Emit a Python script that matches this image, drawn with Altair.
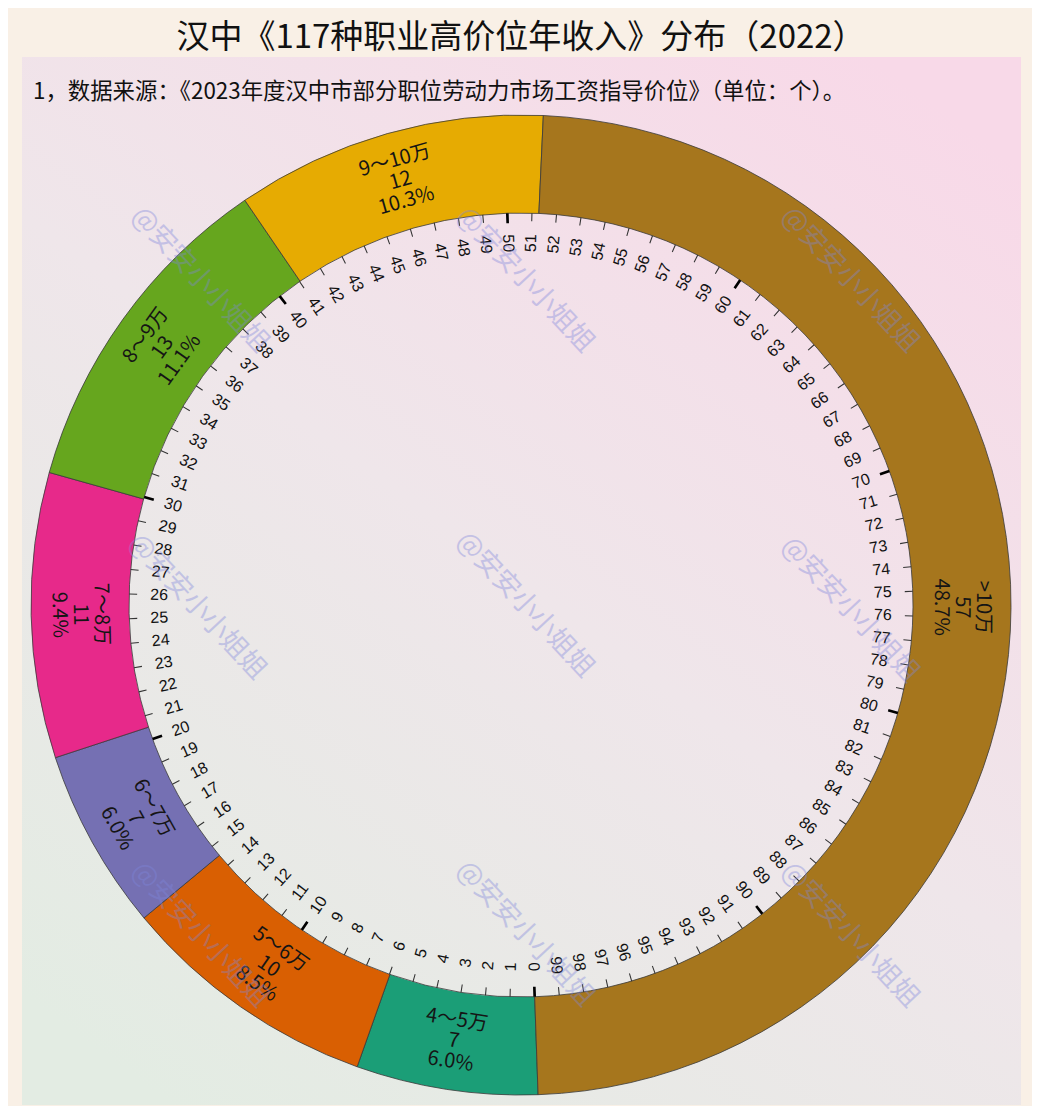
import math
import altair as alt
import pandas as pd

# ---------------- data ----------------
categories = ["4～5万", "5～6万", "6～7万", "7～8万", "8～9万", "9～10万", ">10万"]
counts = [7, 10, 7, 11, 13, 12, 57]
seg_colors = ["#1b9e77", "#d95f02", "#7570b3", "#e7298a", "#66a61e", "#e6ab02", "#a6761d"]
tick_values = list(range(0, 100))
major_ticks = list(range(0, 100, 10))

title_text = "汉中《117种职业高价位年收入》分布（2022）"
subtitle_text = "1，数据来源：《2023年度汉中市部分职位劳动力市场工资指导价位》（单位：个）。"
watermark_text = "@安安小小姐姐"

# ---------------- layout ----------------
W, H = 1024, 1098
CX, CY = 513, 597
R_OUT, R_IN = 490, 392
R_TICKLBL = 362
R_SEGLBL = 441
START = 178.0  # degrees clockwise from 12 o'clock where 0 sits
CJK = "Noto Sans CJK SC"
LINE_H = 21

theta_scale = alt.Scale(domain=[0, 100],
                        range=[math.radians(START), math.radians(START + 360)])


def theta_deg(v):
    return START + 3.6 * v


def norm(r, lo):
    while r > lo + 180:
        r -= 180
    while r <= lo:
        r += 180
    return r % 360


total = sum(counts)
seg_rows = []
cum = 0
for c, n, col in zip(categories, counts, seg_colors):
    s = cum / total * 100
    cum += n
    e = cum / total * 100
    m = (s + e) / 2
    seg_rows.append({
        "cat": c, "start": s, "end": e, "mid": m, "color": col,
        "label": f"{c}\n{n}\n{n / total * 100:.1f}%",
        "ang": norm(theta_deg(m) - 180, -85),
    })
seg_df = pd.DataFrame(seg_rows)

tick_rows = []
for v in tick_values:
    major = v in major_ticks
    w = 0.055 if major else 0.022
    tick_rows.append({
        "v": v, "a": v - w, "b": v + w, "major": major,
        "lbl": str(v), "ang": norm(theta_deg(v) - 90, -90),
    })
tick_df = pd.DataFrame(tick_rows)
minor_df = tick_df[~tick_df["major"]]
major_df = tick_df[tick_df["major"]]

one = pd.DataFrame({"k": [0]})
cx, cy = alt.value(CX), alt.value(CY)

# background gradient panel
bg = alt.Chart(one).mark_rect(
    fill=alt.Gradient(
        gradient="linear",
        stops=[alt.GradientStop(offset=0, color="#e3ece3"),
               alt.GradientStop(offset=0.5, color="#efe6ea"),
               alt.GradientStop(offset=1, color="#f8d9e8")],
        x1=0.15, y1=1, x2=0.85, y2=0,
    )
).encode(x=alt.value(14), x2=alt.value(1013), y=alt.value(49), y2=alt.value(1097))

ring = alt.Chart(seg_df).mark_arc(
    radius=R_OUT, radius2=R_IN, stroke="#3a3a3a", strokeWidth=0.8
).encode(
    theta=alt.Theta("start:Q", scale=theta_scale, stack=False),
    theta2="end:Q",
    color=alt.Color("color:N", scale=None),
    x=cx, y=cy,
)

minor_ticks = alt.Chart(minor_df).mark_arc(
    radius=R_IN, radius2=R_IN - 8, color="#333333"
).encode(
    theta=alt.Theta("a:Q", scale=theta_scale, stack=False),
    theta2="b:Q", x=cx, y=cy,
)

major_tick_layer = alt.Chart(major_df).mark_arc(
    radius=R_IN, radius2=R_IN - 10, color="#000000"
).encode(
    theta=alt.Theta("a:Q", scale=theta_scale, stack=False),
    theta2="b:Q", x=cx, y=cy,
)

tick_labels = alt.Chart(tick_df).mark_text(
    radius=R_TICKLBL, fontSize=16, font="Liberation Sans", color="#111111",
    align="center", baseline="middle"
).encode(
    theta=alt.Theta("v:Q", scale=theta_scale, stack=False),
    text="lbl:N",
    angle=alt.Angle("ang:Q", scale=None),
    x=cx, y=cy,
)

seg_labels = alt.Chart(seg_df).mark_text(
    radius=R_SEGLBL, fontSize=20, font=CJK, color="#151515",
    align="center", baseline="middle", lineBreak="\n", lineHeight=LINE_H,
    dy=-LINE_H
).encode(
    theta=alt.Theta("mid:Q", scale=theta_scale, stack=False),
    text="label:N",
    angle=alt.Angle("ang:Q", scale=None),
    x=cx, y=cy,
)

wm_positions = [(192, 272), (517, 272), (842, 272),
                (189, 599), (517, 597), (842, 602),
                (192, 927), (517, 926), (842, 927)]
wm_layers = [
    alt.Chart(one).mark_text(
        text=watermark_text, angle=47, fontSize=27, font=CJK,
        color="#7f86dc", opacity=0.38, align="center", baseline="middle"
    ).encode(x=alt.value(px), y=alt.value(py))
    for px, py in wm_positions
]

title = alt.Chart(one).mark_text(
    text=title_text, fontSize=33, font=CJK, color="#111111",
    align="center", baseline="middle"
).encode(x=alt.value(513), y=alt.value(30))

subtitle = alt.Chart(one).mark_text(
    text=subtitle_text, fontSize=22.4, font=CJK, color="#111111",
    align="left", baseline="middle"
).encode(x=alt.value(25), y=alt.value(84))

chart = alt.layer(
    bg, ring, minor_ticks, major_tick_layer, tick_labels, seg_labels,
    *wm_layers, title, subtitle
).properties(
    width=W, height=H, background="#f9f0e6", padding=0,
    autosize=alt.AutoSizeParams(type="none"),
).configure_view(strokeOpacity=0)

chart.save("out.html", embed_options={"renderer": "svg", "actions": False})
